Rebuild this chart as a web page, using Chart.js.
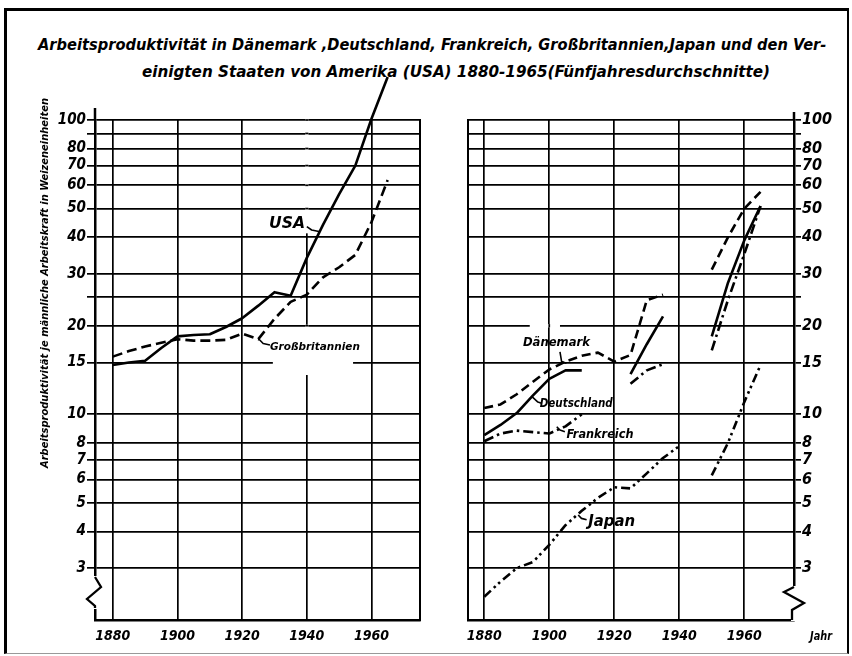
<!DOCTYPE html>
<html>
<head>
<meta charset="utf-8">
<script src="https://cdn.jsdelivr.net/npm/chart.js@4.4.1/dist/chart.umd.min.js"></script>
<style>
html,body{margin:0;padding:0;background:#fff;}
#page{position:relative;width:852px;height:656px;overflow:hidden;background:#fff;}
#frame{position:absolute;left:4px;top:8px;width:840px;height:642px;border-top:3px solid #000;border-left:3px solid #000;border-right:2px solid #000;border-bottom:1px solid #999;}
.t{position:absolute;white-space:nowrap;font-family:"DejaVu Sans Condensed","DejaVu Sans",sans-serif;font-style:italic;font-weight:bold;color:#000;transform-origin:0 0;}
#c1{position:absolute;left:0;top:0;width:440px;height:656px;}
#c2{position:absolute;left:440px;top:0;width:412px;height:656px;}
</style>
</head>
<body>
<div id="page">
  <div id="frame"></div>
  <div class="t" id="t1">Arbeitsproduktivität in Dänemark ,Deutschland, Frankreich, Großbritannien,Japan und den Ver-</div>
  <div class="t" id="t2">einigten Staaten von Amerika (USA) 1880-1965(Fünfjahresdurchschnitte)</div>
  <canvas id="c1" width="440" height="656"></canvas>
  <canvas id="c2" width="412" height="656"></canvas>
</div>
<script>
// ---------------- data (five-year averages) ----------------
const years = [1880,1885,1890,1895,1900,1905,1910,1915,1920,1925,1930,1935,1940,1945,1950,1955,1960,1965];
const usa             = [14.7,15.0,15.2,16.8,18.4,18.6,18.7,19.8,21.2,23.4,26.0,25.3,34.0,44.0,56.0,70.0,101,140];
const grossbritannien = [15.7,16.4,17.0,17.5,18.0,17.8,17.8,17.9,18.8,18.0,21.1,24.1,25.5,29.2,31.6,34.8,45.0,62.5];
const daenemark       = [10.5,10.8,11.7,12.9,14.2,15.1,15.8,16.2,15.1,15.9,24.4,25.5,null,null,31.0,40.0,50.0,57.0];
const deutschland     = [8.5,9.2,10.1,11.6,13.2,14.1,14.1,null,null,13.7,17.3,21.5,null,null,18.4,28.0,39.0,51.0];
const frankreich      = [8.1,8.6,8.8,8.7,8.6,9.1,10.0,null,null,12.7,14.1,14.8,null,null,16.5,24.5,35.0,51.0];
const japan           = [2.4,2.7,3.0,3.15,3.6,4.2,4.7,5.2,5.65,5.6,6.3,7.1,7.8,null,6.2,8.0,11.0,14.7];

const yTicks = [3,4,5,6,7,8,10,15,20,25,30,40,50,60,70,80,90,100];
const yUnlabeled = [25,90];
const xTicks = [1880,1900,1920,1940,1960];
const yAxisTitle = 'Arbeitsproduktivität je männliche Arbeitskraft in Weizeneinheiten';

// ---------------- helpers ----------------
const FONT = '"DejaVu Sans Condensed","DejaVu Sans",sans-serif';
const pts = arr => years.map((x,i) => ({x:x, y:arr[i]}));

function fitHtml(id, x, yc, w, size, lh){
  const el = document.getElementById(id);
  el.style.fontSize = size + 'px';
  el.style.lineHeight = lh + 'px';
  const m = el.offsetWidth;
  el.style.left = x + 'px';
  el.style.top = (yc - lh/2) + 'px';
  el.style.transform = 'scaleX(' + (w/m) + ')';
}
fitHtml('t1', 38, 45, 788, 16, 20);
fitHtml('t2', 142, 72, 628, 16, 20);

function ds(label, arr, dash){
  return {label, data: pts(arr), borderColor:'#000', borderWidth:2.6, borderDash: dash,
    pointRadius:0, tension:0, spanGaps:false, clip:false, fill:false,
    borderCapStyle:'butt', borderJoinStyle:'round', xAxisID:'x', yAxisID:'y'};
}

function yScale(position, width, tickLen, size){
  return {
    type:'logarithmic', position, min:2, max:100,
    afterBuildTicks: s => { s.ticks = yTicks.map(v => ({value:v})); },
    afterFit: s => { s.width = width; },
    ticks:{ autoSkip:false, padding:1, color:'#000',
      font:{family:FONT, size:size, style:'italic', weight:'bold'},
      callback: v => yUnlabeled.includes(v) ? '' : String(v) },
    grid:{ color:'#000', lineWidth:1.7, drawTicks:true, tickLength:tickLen, tickWidth:1.7 },
    border:{ display:true, color:'#000', width:2.5 }
  };
}
function xScale(min, max){
  return {
    type:'linear', min, max,
    afterBuildTicks: s => { s.ticks = xTicks.map(v => ({value:v})); },
    afterFit: s => { s.height = 36; },
    ticks:{ autoSkip:false, maxRotation:0, padding:8, color:'#000',
      font:{family:FONT, size:14, style:'italic', weight:'bold'},
      callback: v => String(v) },
    grid:{ color:'#000', lineWidth:1.7, drawTicks:false },
    border:{ display:true, color:'#000', width:2.5 }
  };
}
function edgeScale(position){
  return { type:'linear', position, display:true,
    afterFit: s => { s.width = 0; },
    grid:{ display:false, drawTicks:false }, ticks:{ display:false },
    border:{ display:true, color:'#000', width:2 } };
}

function fitText(ctx, text, w, size){
  ctx.font = 'italic bold ' + size + 'px ' + FONT;
  const m = ctx.measureText(text).width;
  ctx.scale(w/m, 1);
  ctx.textAlign = 'center'; ctx.textBaseline = 'middle';
  ctx.fillText(text, 0, 0);
}

function framePlugin(cfg){
  return {
    id:'frame_'+cfg.name,
    beforeDatasetsDraw(chart){
      const ctx = chart.ctx, xs = chart.scales.x, ys = chart.scales.y;
      ctx.save();
      (cfg.hGaps||[]).forEach(g => {
        const py = ys.getPixelForValue(g.v), x1 = xs.getPixelForValue(g.x1), x2 = xs.getPixelForValue(g.x2);
        ctx.fillStyle = '#fff'; ctx.fillRect(x1, py-1.6, x2-x1, 3.2);
        ctx.strokeStyle = '#000'; ctx.lineWidth = 1.7;
        xTicks.forEach(t => { const px = xs.getPixelForValue(t);
          if (px > x1 && px < x2 && !(g.skip||[]).includes(t)) { ctx.beginPath(); ctx.moveTo(px, py-1.6); ctx.lineTo(px, py+1.6); ctx.stroke(); } });
      });
      (cfg.vGaps||[]).forEach(g => {
        const px = xs.getPixelForValue(g.x), y1 = ys.getPixelForValue(g.v1), y2 = ys.getPixelForValue(g.v2);
        ctx.fillStyle = '#fff'; ctx.fillRect(px-1.6, y1-1, 3.2, y2-y1+1);
        ctx.strokeStyle = '#000'; ctx.lineWidth = 1.7;
        yTicks.forEach(t => { const py = ys.getPixelForValue(t);
          if (py >= y1-1 && py < y2 && !(g.skip||[]).includes(t)) { ctx.beginPath(); ctx.moveTo(px-1.6, py); ctx.lineTo(px+1.6, py); ctx.stroke(); } });
      });
      ctx.restore();
    },
    afterDraw(chart){
      const ctx = chart.ctx, ca = chart.chartArea, xs = chart.scales.x, ys = chart.scales.y;
      ctx.save();
      ctx.strokeStyle = '#000'; ctx.fillStyle = '#000';
      const ax = cfg.axisSide === 'left' ? ca.left : ca.right;
      ctx.lineWidth = 2.5;
      ctx.beginPath(); ctx.moveTo(ax, ca.top); ctx.lineTo(ax, ca.top - cfg.stub); ctx.stroke();
      const z = cfg.zig;
      ctx.fillStyle = '#fff';
      ctx.fillRect(ax-3, ca.bottom - z[0][1] - 1, 6, z[0][1] - z[z.length-1][1] + 2);
      ctx.lineWidth = 2.3; ctx.lineJoin = 'miter';
      ctx.beginPath();
      z.forEach((p,i) => { const X = ax + p[0], Y = ca.bottom - p[1]; i ? ctx.lineTo(X,Y) : ctx.moveTo(X,Y); });
      ctx.stroke();
      ctx.fillStyle = '#000';
      (cfg.labels||[]).forEach(it => {
        const cx = xs.getPixelForValue(it.at[0]), cy = ys.getPixelForValue(it.at[1]);
        ctx.save(); ctx.translate(cx, cy); fitText(ctx, it.text, it.w, it.size); ctx.restore();
        if (it.leader){
          ctx.lineWidth = 1.6; ctx.lineJoin = 'round';
          ctx.beginPath();
          it.leader.forEach((p,i) => { const X = xs.getPixelForValue(p[0]), Y = ys.getPixelForValue(p[1]); i ? ctx.lineTo(X,Y) : ctx.moveTo(X,Y); });
          ctx.stroke();
        }
      });
      if (cfg.unit){
        ctx.save(); ctx.translate(ca.right + 27, ca.bottom + 17); fitText(ctx, cfg.unit, 22, 12); ctx.restore();
      }
      if (cfg.axisTitle){
        ctx.save(); ctx.translate(ca.left - 50, (ca.top + ca.bottom)/2 - 87); ctx.rotate(-Math.PI/2);
        fitText(ctx, cfg.axisTitle, 370, 11); ctx.restore();
      }
      ctx.restore();
    }
  };
}

const common = { responsive:false, animation:false, events:[],
  plugins:{ legend:{display:false}, title:{display:false}, tooltip:{enabled:false} } };

// ---------------- left panel: USA, Großbritannien ----------------
new Chart(document.getElementById('c1'), {
  type:'line',
  data:{ datasets:[ ds('USA', usa, []), ds('Großbritannien', grossbritannien, [10,5]) ] },
  options:Object.assign({}, common, {
    layout:{ padding:{ left:0, top:120, right:20, bottom:0 } },
    scales:{ x: xScale(1874.5, 1975), y: yScale('left', 95, 8, 15), y2: edgeScale('right') }
  }),
  plugins:[ framePlugin({
    name:'l', axisSide:'left', stub:12, axisTitle:yAxisTitle,
    zig:[[0,43],[6,33],[-8,21],[0,14],[0,12]],
    hGaps:[{v:15, x1:1929.5, x2:1954.3, skip:[1940]}],
    vGaps:[{x:1940, v1:100, v2:41.2}, {x:1940, v1:20, v2:13.6, skip:[15]}],
    labels:[
      {text:'USA', at:[1933.9, 44.3], w:36, size:15, leader:[[1940.0,43.4],[1941.5,42.3],[1944.1,41.7]]},
      {text:'Großbritannien', at:[1942.5, 16.97], w:90, size:11, leader:[[1925.0,18.1],[1926.5,17.4],[1928.6,17.2]]}
    ]
  }) ]
});

// ---------------- right panel: Dänemark, Deutschland, Frankreich, Japan ----------------
new Chart(document.getElementById('c2'), {
  type:'line',
  data:{ datasets:[
    ds('Dänemark', daenemark, [9,5]),
    ds('Deutschland', deutschland, []),
    ds('Frankreich', frankreich, [10,4,2.5,4]),
    ds('Japan', japan, [9,4,2.5,3.5,2.5,4])
  ] },
  options:Object.assign({}, common, {
    layout:{ padding:{ left:28, top:120, right:0, bottom:0 } },
    scales:{ x: xScale(1875, 1975.3), y: yScale('right', 58, 7, 16), yl: edgeScale('left') }
  }),
  plugins:[ framePlugin({
    name:'r', axisSide:'right', stub:8, unit:'Jahr',
    zig:[[0,33],[-10,28],[10,17],[-2,10],[-2,0]],
    hGaps:[{v:20, x1:1894, x2:1903.3}],
    labels:[
      {text:'Dänemark', at:[1902.2, 17.5], w:67, size:12, leader:[[1903.3,16.3],[1903.8,15.1],[1905.3,14.9]]},
      {text:'Deutschland', at:[1908.3, 10.84], w:73, size:12, leader:[[1894.6,11.5],[1896.5,11.0],[1897.6,10.9]]},
      {text:'Frankreich', at:[1915.6, 8.5], w:67, size:12, leader:[[1902.3,9.07],[1903.3,8.84],[1904.8,8.73]]},
      {text:'Japan', at:[1919.2, 4.31], w:47, size:15, leader:[[1908.9,4.55],[1909.9,4.43],[1911.5,4.38]]}
    ]
  }) ]
});
</script>
</body>
</html>
